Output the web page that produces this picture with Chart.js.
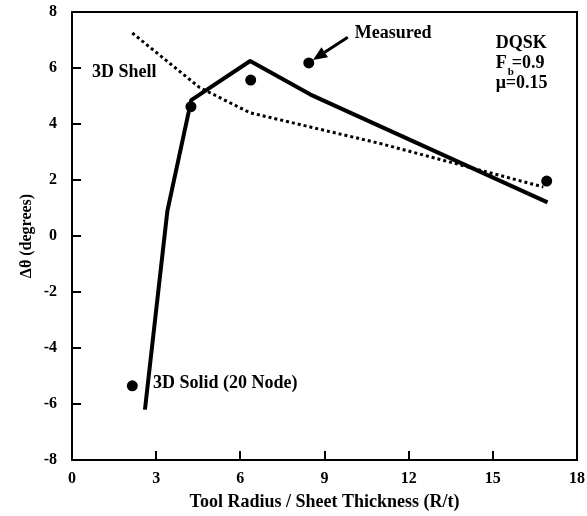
<!DOCTYPE html>
<html><head><meta charset="utf-8">
<script src="https://cdn.jsdelivr.net/npm/chart.js@4"></script>
<style>html,body{margin:0;padding:0;background:#fff}#wrap{width:587px;height:516px}</style>
</head><body><div id="wrap"><canvas id="c" width="587" height="516"></canvas></div>
<script>
// ---- data ----
const measuredX = [2.15, 4.24, 6.37, 8.44, 16.92];
const measuredY = [-5.35, 4.62, 5.57, 6.18, 1.96];
const solidX = [2.6, 3.4, 4.25, 6.35, 8.5, 16.95];
const solidY = [-6.2, 0.9, 4.85, 6.25, 5.05, 1.2];
const shellX = [2.15, 4.55, 6.35, 11, 16.8];
const shellY = [7.25, 5.3, 4.4, 3.3, 1.75];
const xTicks = [0, 3, 6, 9, 12, 15, 18];
const yTicks = [-8, -6, -4, -2, 0, 2, 4, 6, 8];

const toPts = (xs, ys) => xs.map((x, i) => ({x: x, y: ys[i]}));
const SERIF = '"Liberation Serif", "Times New Roman", serif';

// text annotations (positions in data units)
const notes = [
  {text: '3D Shell', x: 0.71, y: 5.86},
  {text: '3D Solid (20 Node)', x: 2.89, y: -5.25},
  {text: 'Measured', x: 10.08, y: 7.25},
  {text: 'DQSK', x: 15.1, y: 6.89},
  {text: '\u03BC=0.15', x: 15.1, y: 5.46}
];
const fbNote = {x: 15.1, y: 6.18, main: 'F', sub: 'b', rest: '=0.9'};
const arrowNote = {x0: 9.83, y0: 7.1, x1: 8.59, y1: 6.29};

const decor = {
  id: 'decor',
  afterDatasetsDraw(chart) {
    const ctx = chart.ctx, a = chart.chartArea;
    const xs = chart.scales.x, ys = chart.scales.y;
    ctx.save();
    ctx.strokeStyle = '#000';
    ctx.lineWidth = 2;
    ctx.strokeRect(a.left, a.top, a.right - a.left, a.bottom - a.top);
    ctx.beginPath();
    xs.ticks.forEach(t => {
      const px = Math.round(xs.getPixelForValue(t.value));
      ctx.moveTo(px, a.bottom); ctx.lineTo(px, a.bottom - 9);
    });
    ys.ticks.forEach(t => {
      const py = Math.round(ys.getPixelForValue(t.value));
      ctx.moveTo(a.left, py); ctx.lineTo(a.left + 9, py);
    });
    ctx.stroke();

    ctx.fillStyle = '#000';
    ctx.font = 'bold 18px ' + SERIF;
    ctx.textBaseline = 'middle';
    ctx.textAlign = 'left';
    notes.forEach(n => {
      ctx.fillText(n.text, xs.getPixelForValue(n.x), ys.getPixelForValue(n.y));
    });
    // F_b=0.9
    const fx = xs.getPixelForValue(fbNote.x), fy = ys.getPixelForValue(fbNote.y);
    ctx.fillText(fbNote.main, fx, fy);
    const fw = ctx.measureText(fbNote.main).width;
    ctx.fillText(fbNote.rest, fx + fw + 5, fy);
    ctx.font = 'bold 11px ' + SERIF;
    ctx.fillText(fbNote.sub, fx + fw + 1, fy + 9);

    // arrow
    const ax0 = xs.getPixelForValue(arrowNote.x0), ay0 = ys.getPixelForValue(arrowNote.y0);
    const ax1 = xs.getPixelForValue(arrowNote.x1), ay1 = ys.getPixelForValue(arrowNote.y1);
    const ang = Math.atan2(ay1 - ay0, ax1 - ax0);
    const hl = 14, hw = 6;
    const bx = ax1 - hl * Math.cos(ang), by = ay1 - hl * Math.sin(ang);
    ctx.lineWidth = 3;
    ctx.beginPath(); ctx.moveTo(ax0, ay0); ctx.lineTo(bx, by); ctx.stroke();
    ctx.beginPath();
    ctx.moveTo(ax1, ay1);
    ctx.lineTo(bx + hw * Math.sin(ang), by - hw * Math.cos(ang));
    ctx.lineTo(bx - hw * Math.sin(ang), by + hw * Math.cos(ang));
    ctx.closePath(); ctx.fill();
    ctx.restore();
  }
};

new Chart(document.getElementById('c'), {
  type: 'scatter',
  data: {
    datasets: [
      {label: 'Measured', data: toPts(measuredX, measuredY), showLine: false,
       pointRadius: 5.5, pointBackgroundColor: '#000', pointBorderColor: '#000', pointBorderWidth: 0},
      {label: '3D Solid (20 Node)', data: toPts(solidX, solidY), showLine: true,
       borderColor: '#000', borderWidth: 4, pointRadius: 0, borderJoinStyle: 'round', borderCapStyle: 'butt'},
      {label: '3D Shell', data: toPts(shellX, shellY), showLine: true,
       borderColor: '#000', borderWidth: 3, pointRadius: 0, borderDash: [3, 3]}
    ]
  },
  options: {
    responsive: false, animation: false, devicePixelRatio: 1,
    layout: {padding: {top: 12, right: 10, left: 0, bottom: 0}},
    plugins: {legend: {display: false}, tooltip: {enabled: false}},
    scales: {
      x: {
        type: 'linear', min: 0, max: 18,
        afterBuildTicks: s => { s.ticks = xTicks.map(v => ({value: v})); },
        afterFit: s => { s.height = 56; s.paddingLeft = 0; s.paddingRight = 0; },
        grid: {display: false, drawTicks: false, tickLength: 0}, border: {display: false},
        ticks: {padding: 9, color: '#000', font: {family: SERIF, size: 16, weight: 'bold'}},
        title: {display: true, text: 'Tool Radius / Sheet Thickness (R/t)', color: '#000',
                padding: {top: 0, bottom: 3}, font: {family: SERIF, size: 18, weight: 'bold'}}
      },
      y: {
        type: 'linear', min: -8, max: 8,
        afterBuildTicks: s => { s.ticks = yTicks.map(v => ({value: v})); },
        afterFit: s => { s.width = 72; s.paddingTop = 0; s.paddingBottom = 0; },
        grid: {display: false, drawTicks: false, tickLength: 0}, border: {display: false},
        ticks: {padding: 15, color: '#000', font: {family: SERIF, size: 16, weight: 'bold'}},
        title: {display: true, text: '\u0394\u03B8 (degrees)', color: '#000',
                padding: {top: 17, bottom: 0}, font: {family: SERIF, size: 16, weight: 'bold'}}
      }
    }
  },
  plugins: [decor]
});
</script>
</body></html>
